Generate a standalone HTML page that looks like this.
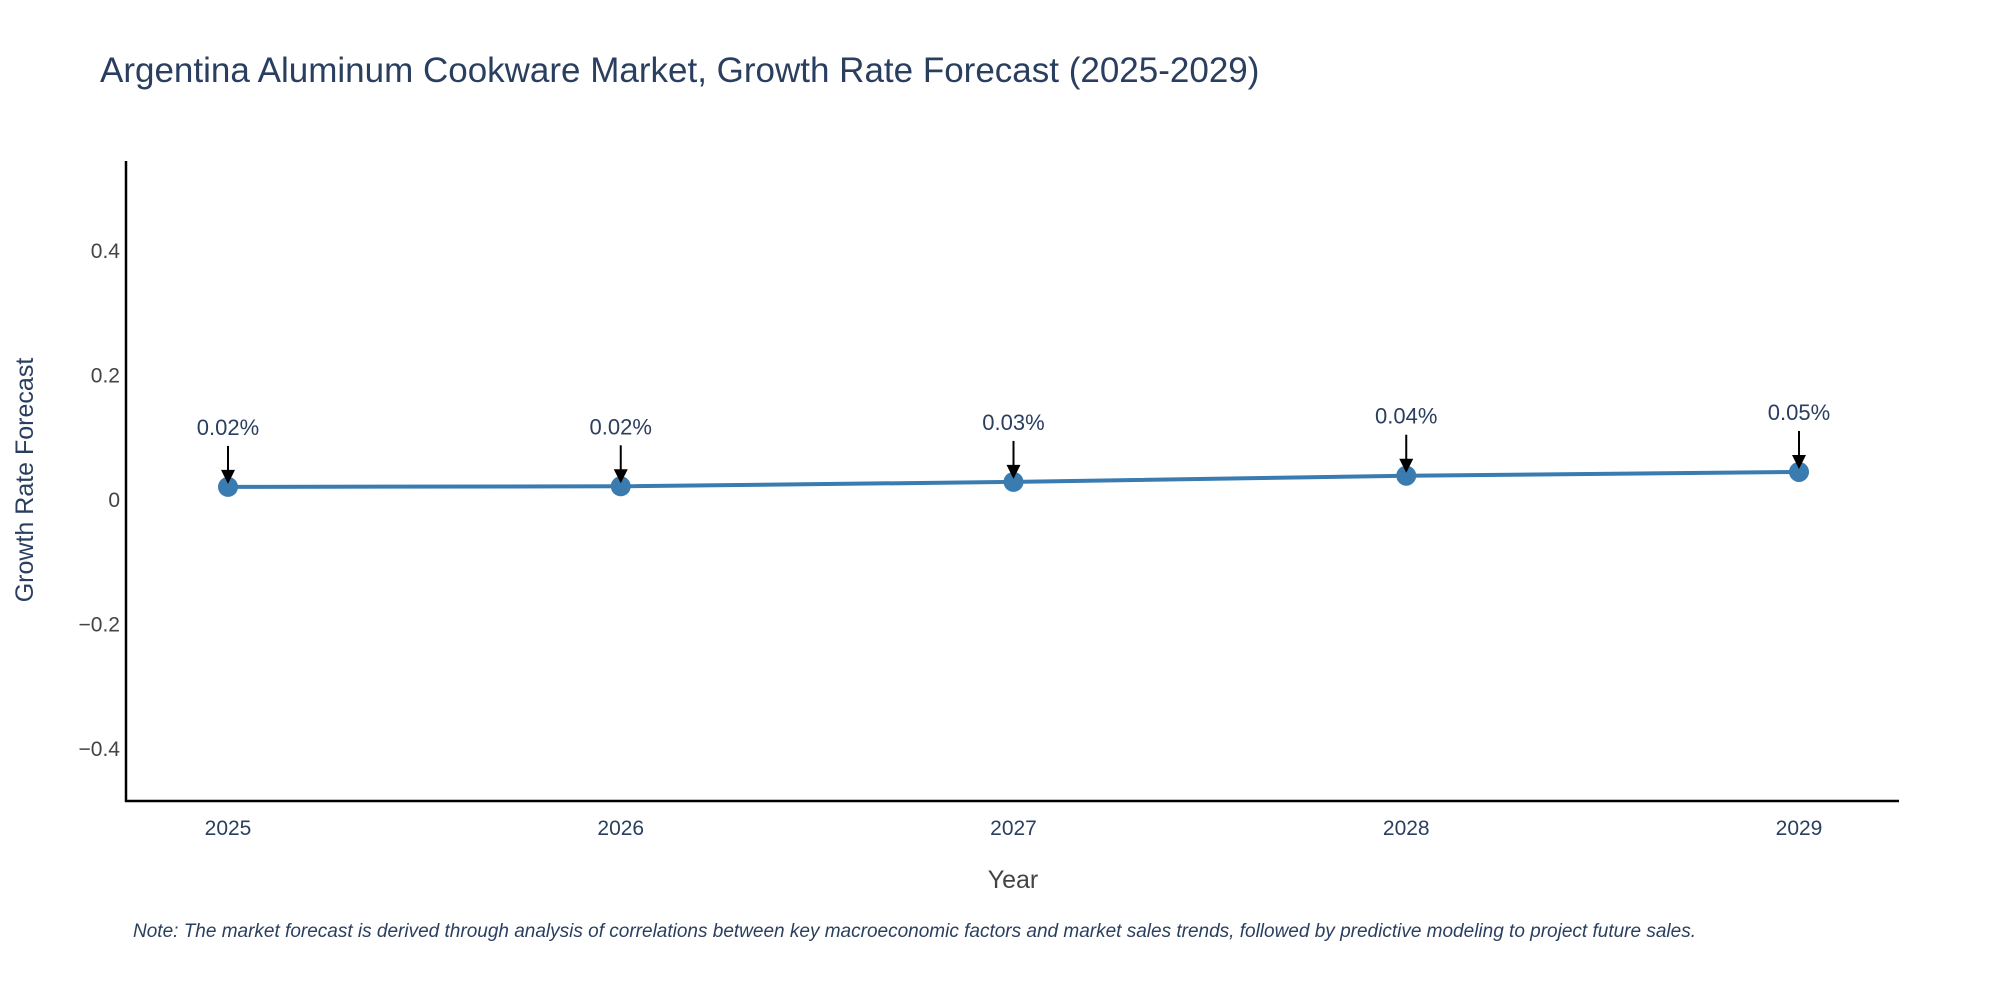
<!DOCTYPE html>
<html><head><meta charset="utf-8"><style>
html,body{margin:0;padding:0;background:#fff;}
svg{display:block;font-family:"Liberation Sans",sans-serif;}
</style></head><body>
<svg id="chart" width="2000" height="1000" viewBox="0 0 2000 1000">
<text x="100" y="82" font-size="35" fill="#2a3f5f">Argentina Aluminum Cookware Market, Growth Rate Forecast (2025-2029)</text>
<g id="yticks"></g>
<g id="xticks"></g>
<line x1="126" y1="161" x2="126" y2="802" stroke="#000" stroke-width="2.5"/>
<line x1="125" y1="801" x2="1899" y2="801" stroke="#000" stroke-width="2.5"/>
<g id="series"></g>
<g id="annos"></g>
<text x="1013" y="888" font-size="25" fill="#444" text-anchor="middle">Year</text>
<text transform="translate(33,480) rotate(-90)" font-size="25" fill="#2a3f5f" text-anchor="middle">Growth Rate Forecast</text>
<text x="133" y="937" font-size="19" font-style="italic" fill="#2a3f5f">Note: The market forecast is derived through analysis of correlations between key macroeconomic factors and market sales trends, followed by predictive modeling to project future sales.</text>
</svg>
<script>
const years = [2025, 2026, 2027, 2028, 2029];
const growth = [0.021, 0.022, 0.029, 0.039, 0.045];
const labels = ["0.02%", "0.02%", "0.03%", "0.04%", "0.05%"];
const yTickVals = [0.4, 0.2, 0, -0.2, -0.4];
const yTickLabels = ["0.4", "0.2", "0", "\u22120.2", "\u22120.4"];

const NS = "http://www.w3.org/2000/svg";
function xPos(yr){ return 228 + (yr - 2025) * 392.75; }
function yPos(v){ return 500 - v * 623; }
function mk(tag, attrs, parent){ const e = document.createElementNS(NS, tag); for (const k in attrs) e.setAttribute(k, attrs[k]); parent.appendChild(e); return e; }

const yt = document.getElementById('yticks');
yTickVals.forEach((v, i) => {
  const t = mk('text', {x: 120, y: yPos(v) + 7, 'font-size': 21, fill: '#444', 'text-anchor': 'end'}, yt);
  
  
  t.textContent = yTickLabels[i];
});
const xt = document.getElementById('xticks');
years.forEach(yr => {
  const t = mk('text', {x: xPos(yr), y: 835, 'font-size': 21, fill: '#2a3f5f', 'text-anchor': 'middle'}, xt);
  
  
  t.textContent = String(yr);
});
const s = document.getElementById('series');
const pts = years.map((yr, i) => xPos(yr) + ',' + yPos(growth[i])).join(' ');
const pl = mk('polyline', {points: pts, fill: 'none', stroke: '#3a7bb0', 'stroke-width': 4}, s);


years.forEach((yr, i) => {
  const c = mk('circle', {cx: xPos(yr), cy: yPos(growth[i]), r: 10, fill: '#3a7bb0'}, s);
  
  
});
const a = document.getElementById('annos');
years.forEach((yr, i) => {
  const x = xPos(yr), y = yPos(growth[i]);
  const t = mk('text', {x: x, y: y - 52, 'font-size': 22, fill: '#2a3f5f', 'text-anchor': 'middle'}, a);
  
  
  t.textContent = labels[i];
  const l = mk('line', {x1: x, y1: y - 41, x2: x, y2: y - 14, stroke: '#000', 'stroke-width': 2}, a);
  
  
  const p = mk('polygon', {points: (x-7)+','+(y-17)+' '+(x+7)+','+(y-17)+' '+x+','+(y-3), fill: '#000'}, a);
  
  
});
</script>
</body></html>
